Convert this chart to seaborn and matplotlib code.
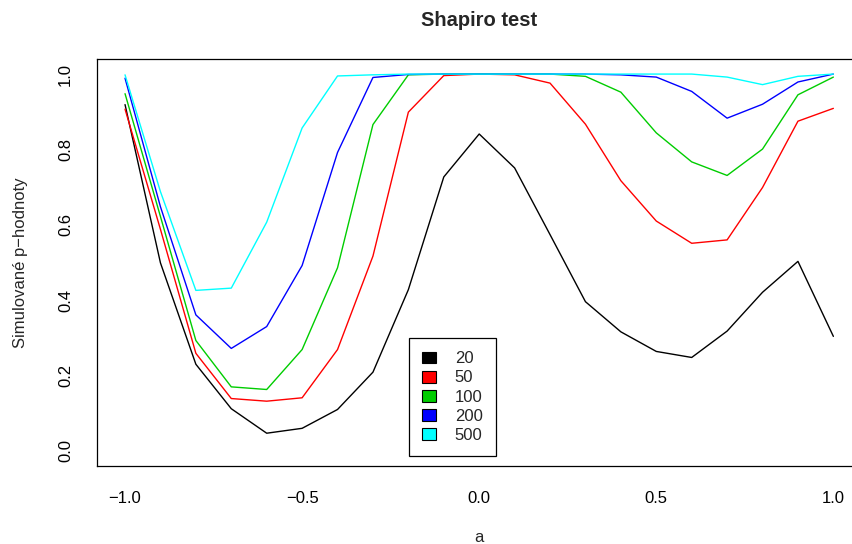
import numpy as np
import pandas as pd
import matplotlib
matplotlib.use("Agg")
import matplotlib.pyplot as plt
from matplotlib.patches import Patch
import seaborn as sns

a_values = [-1.0, -0.9, -0.8, -0.7, -0.6, -0.5, -0.4, -0.3, -0.2, -0.1, 0.0,
            0.1, 0.2, 0.3, 0.4, 0.5, 0.6, 0.7, 0.8, 0.9, 1.0]

p_20 = [0.919, 0.499, 0.230, 0.112, 0.047, 0.060, 0.110, 0.209, 0.428, 0.727, 0.841,
        0.751, 0.574, 0.396, 0.316, 0.264, 0.248, 0.318, 0.421, 0.503, 0.304]
p_50 = [0.907, 0.588, 0.259, 0.139, 0.132, 0.141, 0.269, 0.517, 0.899, 0.996, 1.000,
        0.998, 0.976, 0.867, 0.717, 0.610, 0.551, 0.560, 0.699, 0.875, 0.909]
p_100 = [0.948, 0.622, 0.293, 0.170, 0.163, 0.269, 0.486, 0.866, 0.998, 1.000, 1.000,
         1.000, 1.000, 0.994, 0.952, 0.844, 0.767, 0.731, 0.801, 0.945, 0.992]
p_200 = [0.989, 0.648, 0.361, 0.272, 0.330, 0.492, 0.792, 0.991, 0.999, 1.000, 1.000,
         1.000, 1.000, 1.000, 0.998, 0.992, 0.954, 0.883, 0.920, 0.979, 1.000]
p_500 = [0.998, 0.688, 0.426, 0.432, 0.607, 0.857, 0.995, 0.998, 1.000, 1.000, 1.000,
         1.000, 1.000, 1.000, 1.000, 1.000, 1.000, 0.992, 0.972, 0.994, 1.000]

series_labels = ["20", "50", "100", "200", "500"]
series_values = [p_20, p_50, p_100, p_200, p_500]
series_colors = ["#000000", "#FF0000", "#00CD00", "#0000FF", "#00FFFF"]

x_ticks = [-1.0, -0.5, 0.0, 0.5, 1.0]
y_ticks = [0.0, 0.2, 0.4, 0.6, 0.8, 1.0]

rows = []
for lab, vals in zip(series_labels, series_values):
    for a, p in zip(a_values, vals):
        rows.append({"a": a, "p": p, "n": lab})
df = pd.DataFrame(rows)

sns.set_style("white")
plt.rcParams["font.family"] = ["Liberation Sans", "DejaVu Sans"]

W, H = 853, 544
fig = plt.figure(figsize=(W / 100, H / 100), dpi=100)
left, right, top, bottom = 96.7, 861.7, 59.0, 466.0
ax = fig.add_axes([left / W, 1 - bottom / H, (right - left) / W, (bottom - top) / H])

sns.lineplot(data=df, x="a", y="p", hue="n", hue_order=series_labels,
             palette=dict(zip(series_labels, series_colors)),
             linewidth=1.0, legend=False, ax=ax, sort=False)

ax.set_xlim(-1.08, 1.08)
ax.set_ylim(-0.04, 1.04)
ax.set_xticks(x_ticks)
ax.set_xticklabels([f"{v:.1f}".replace("-", "\u2212") for v in x_ticks])
ax.set_yticks(y_ticks)
ax.set_yticklabels([f"{v:.1f}" for v in y_ticks], rotation=90, va="center")
ax.tick_params(axis="both", direction="out", length=6, width=0.9, labelsize=12,
               color="black", labelcolor="black")
ax.tick_params(axis="x", pad=12)
ax.tick_params(axis="y", pad=11)
for name, s in ax.spines.items():
    s.set_color("black")
    s.set_linewidth(0.9)
    s.set_visible(name != "right")

ax.set_xlabel("a", fontsize=12, labelpad=17)
ax.set_ylabel("Simulované p\u2212hodnoty", fontsize=12, labelpad=22)
ax.set_title("Shapiro test", fontsize=14.5, fontweight="bold", pad=24)

handles = [Patch(facecolor=c, edgecolor="black", linewidth=0.8) for c in series_colors]
leg = fig.legend(handles, series_labels, loc="upper left",
                 bbox_to_anchor=(409 / W, 1 - 338 / H), bbox_transform=fig.transFigure,
                 fontsize=12, frameon=True, fancybox=False, framealpha=1,
                 edgecolor="black", handlelength=0.85, handleheight=0.7,
                 handletextpad=1.1, labelspacing=0.25, borderpad=0.8,
                 borderaxespad=0)
leg.get_frame().set_linewidth(0.9)

fig.savefig("out.png", dpi=100)
